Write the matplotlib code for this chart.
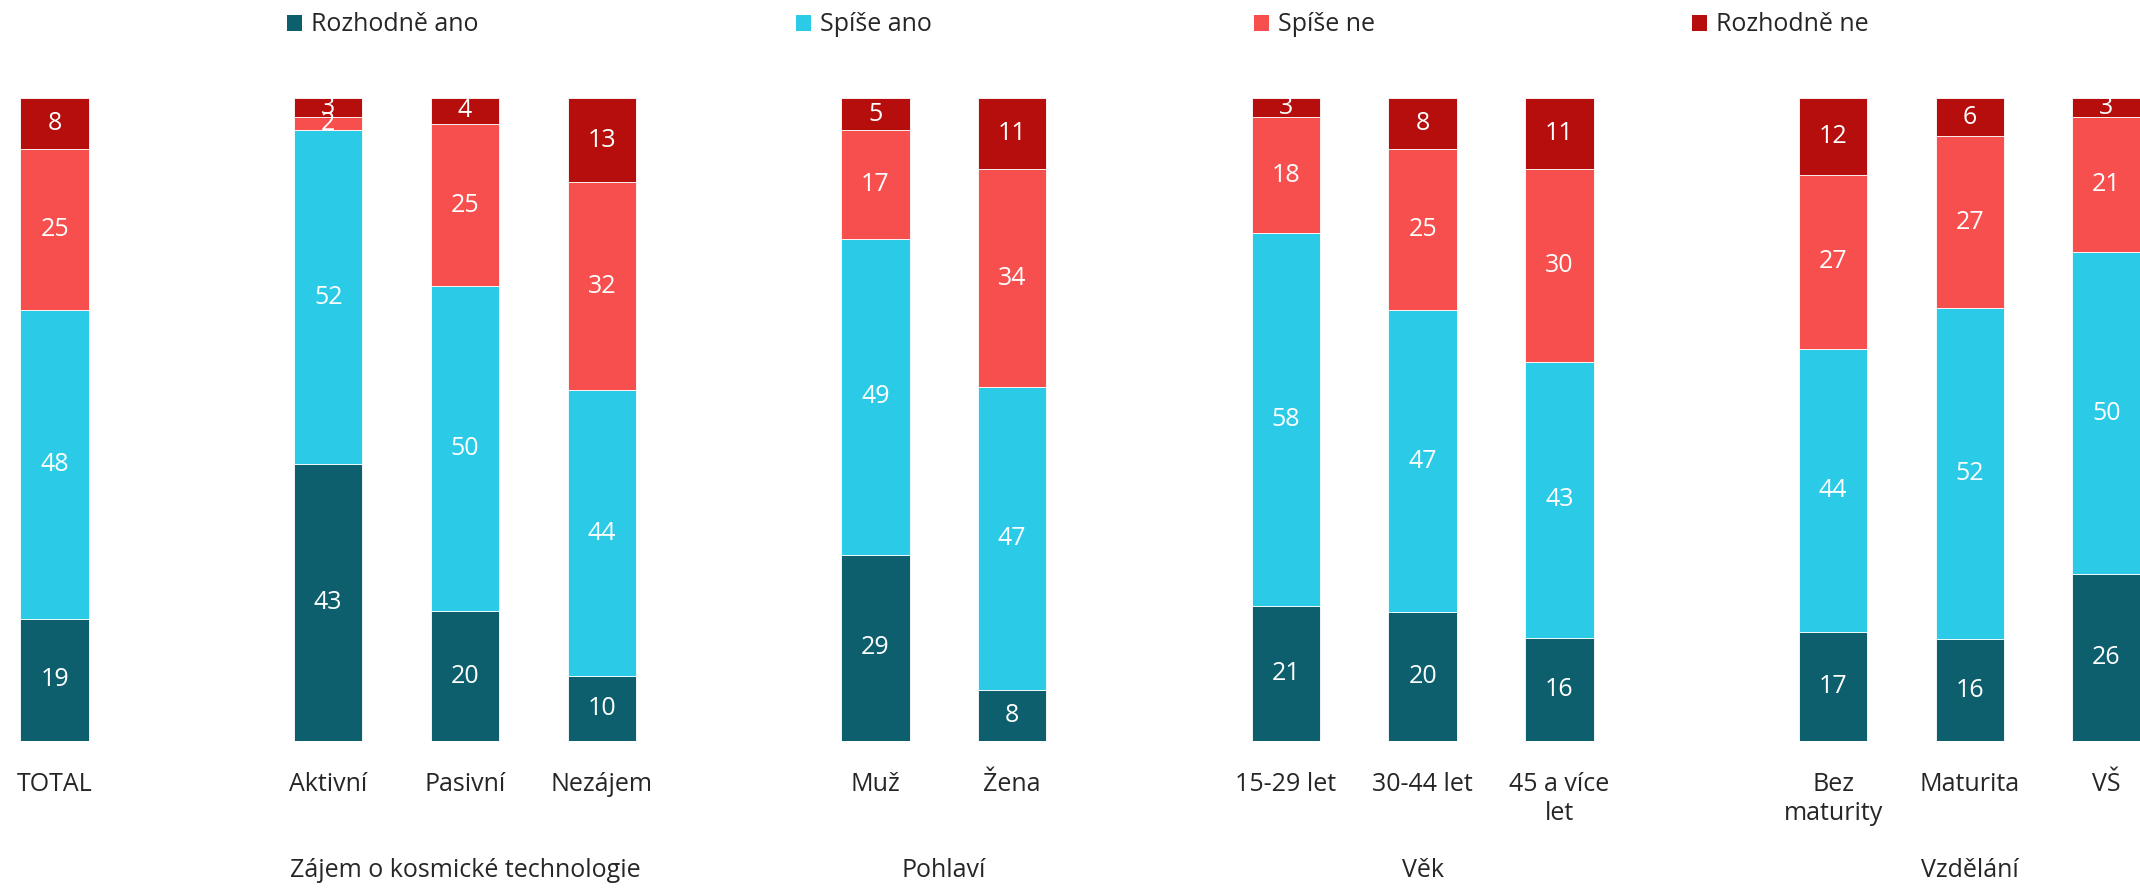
import matplotlib
matplotlib.use("Agg")
import matplotlib.pyplot as plt
import numpy as np
from matplotlib.patches import Patch

plt.rcParams["font.family"] = ["Open Sans", "DejaVu Sans"]

# ---- Data ----
groups = ["", "Zájem o kosmické technologie", "Pohlaví", "Věk", "Vzdělání"]
group_members = [
    ["TOTAL"],
    ["Aktivní", "Pasivní", "Nezájem"],
    ["Muž", "Žena"],
    ["15-29 let", "30-44 let", "45 a více\nlet"],
    ["Bez\nmaturity", "Maturita", "VŠ"],
]
rozhodne_ano = [19, 43, 20, 10, 29, 8, 21, 20, 16, 17, 16, 26]
spise_ano = [48, 52, 50, 44, 49, 47, 58, 47, 43, 44, 52, 50]
spise_ne = [25, 2, 25, 32, 17, 34, 18, 25, 30, 27, 27, 21]
rozhodne_ne = [8, 3, 4, 13, 5, 11, 3, 8, 11, 12, 6, 3]

series_names = ["Rozhodně ano", "Spíše ano", "Spíše ne", "Rozhodně ne"]
colors = ["#0E5F6E", "#2BCBE8", "#F74F4E", "#B50E0C"]

# ---- Positions: one empty slot between groups ----
positions, labels, group_centers = [], [], []
pos = 0
for members in group_members:
    start = pos
    for m in members:
        positions.append(pos)
        labels.append(m)
        pos += 1
    group_centers.append((start + pos - 1) / 2)
    pos += 1
positions = np.array(positions, dtype=float)

values = np.array([rozhodne_ano, spise_ano, spise_ne, rozhodne_ne], dtype=float)
shares = values / values.sum(axis=0) * 100  # 100% stacked

# ---- Plot ----
fig = plt.figure(figsize=(21.4, 8.89), dpi=100)
ax = fig.add_axes([0, 0.1665, 1, 0.7233])

bottom = np.zeros(len(positions))
for vals, share, name, color in zip(values, shares, series_names, colors):
    bars = ax.bar(positions, share, width=0.5, bottom=bottom, color=color,
                  edgecolor="white", linewidth=0.6, label=name)
    ax.bar_label(bars, labels=[f"{v:.0f}" for v in vals], label_type="center",
                 color="white", fontsize=18)
    bottom += share

ax.set_xlim(-0.399, 15.244)
ax.set_ylim(0, 100)
ax.set_xticks(positions)
ax.set_xticklabels(labels, fontsize=18, color="#262626", linespacing=1.25)
ax.tick_params(axis="x", length=0, pad=22)
ax.set_yticks([])
for s in ax.spines.values():
    s.set_visible(False)

# Group captions under the tick labels
for name, c in zip(groups, group_centers):
    if name:
        ax.text(c, -0.202, name, transform=ax.get_xaxis_transform(),
                ha="center", va="center", fontsize=18, color="#262626")

# ---- Legend (spread across the top) ----
legend_x = [287, 796, 1254, 1692]
for name, color, lx in zip(series_names, colors, legend_x):
    fig.legend([Patch(facecolor=color)], [name], loc="center left",
               bbox_to_anchor=(lx / 2140, 0.972), frameon=False,
               fontsize=18, handlelength=0.6, handleheight=0.6,
               handletextpad=0.35, borderpad=0, borderaxespad=0,
               labelcolor="#262626")

fig.savefig("out.png", dpi=100)
